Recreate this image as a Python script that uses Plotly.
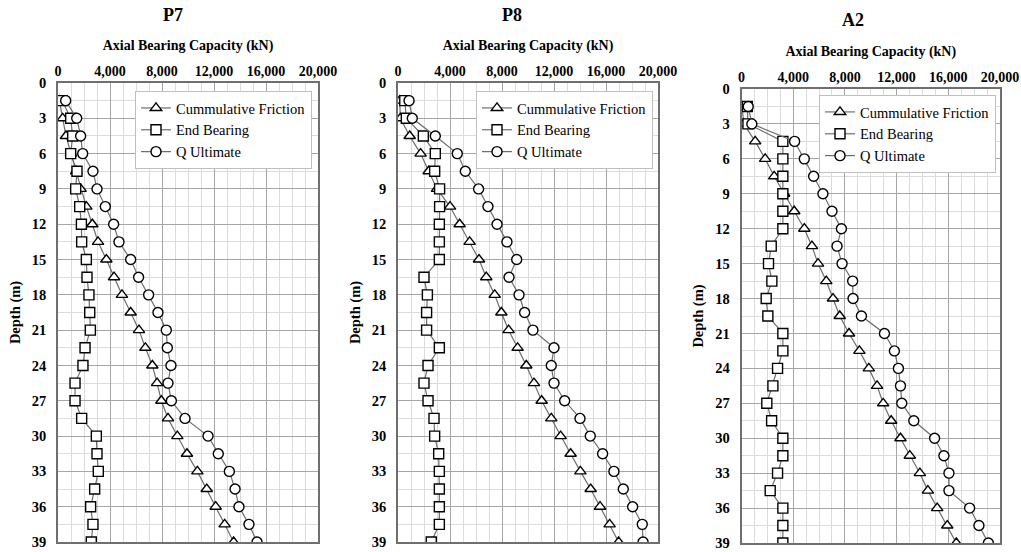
import plotly.graph_objects as go

depth = [1.5, 3, 4.5, 6, 7.5, 9, 10.5, 12, 13.5, 15, 16.5, 18, 19.5, 21,
         22.5, 24, 25.5, 27, 28.5, 30, 31.5, 33, 34.5, 36, 37.5, 39]

p7_friction = [100, 360, 615, 1000, 1400, 1740, 2180, 2640, 3080, 3720, 4310, 4920, 5590, 6230,
               6720, 7260, 7620, 7950, 8460, 9180, 9920, 10720, 11440, 12130, 12820, 13510]
p7_end = [330, 975, 1130, 975, 1460, 1360, 1670, 1800, 1820, 2180, 2230, 2380, 2440, 2490,
          2080, 1920, 1310, 1310, 1820, 2950, 3000, 3100, 2820, 2510, 2690, 2560]
p7_q = [590, 1440, 1740, 1900, 2690, 3000, 3640, 4280, 4690, 5590, 6200, 6970, 7690, 8330,
        8410, 8690, 8460, 8720, 9770, 11540, 12330, 13180, 13620, 13920, 14690, 15310]

p8_friction = [130, 180, 900, 1740, 2360, 3000, 4000, 4740, 5510, 6230, 6790, 7440, 7950, 8510,
               9200, 9870, 10460, 11050, 11790, 12510, 13280, 14030, 14820, 15540, 16280, 16970]
p8_end = [520, 640, 1950, 2870, 2820, 3200, 3200, 3180, 3180, 3180, 2000, 2260, 2200, 2200,
          3180, 2310, 2000, 2310, 2770, 2820, 3130, 3180, 3180, 3180, 3180, 2560]
p8_q = [850, 1100, 2870, 4560, 5180, 6200, 6920, 7620, 8380, 9130, 8540, 9310, 9740, 10380,
        12000, 11790, 12000, 12820, 14000, 14790, 15740, 16610, 17330, 18050, 18790, 18850]

a2_friction = [50, 170, 1060, 1830, 2530, 3300, 4080, 4860, 5450, 5920, 6560, 7080, 7600, 8320,
               9120, 9850, 10490, 10960, 11580, 12300, 13020, 13800, 14420, 15140, 15920, 16620]
a2_end = [450, 500, 3200, 3200, 3200, 3200, 3200, 3200, 2300, 2090, 2350, 1910, 2040, 3200,
          3200, 2790, 2430, 1960, 2330, 3200, 3200, 2790, 2220, 3200, 3200, 3200]
a2_q = [520, 800, 4110, 4860, 5580, 6300, 7000, 7730, 7390, 7780, 8600, 8630, 9280, 11060,
        11830, 12140, 12300, 12400, 13330, 14940, 15660, 16050, 16050, 17650, 18370, 19100]

panels = ["P7", "P8", "A2"]
series_names = ["Cummulative Friction", "End Bearing", "Q Ultimate"]
x_ticks = [0, 4000, 8000, 12000, 16000, 20000]
y_ticks = [0, 3, 6, 9, 12, 15, 18, 21, 24, 27, 30, 33, 36, 39]

data = {
    "P7": [p7_friction, p7_end, p7_q],
    "P8": [p8_friction, p8_end, p8_q],
    "A2": [a2_friction, a2_end, a2_q],
}

W, H = 1021, 552
FONT = "Liberation Serif"
symbols = ["triangle-up", "square", "circle"]
sizes = [10, 10, 10]

# pixel frames of each plot area: (left, right, top, bottom)
frames = {
    "P7": (58, 318, 83, 542),
    "P8": (398, 658, 83, 542),
    "A2": (741.5, 1000, 89, 543),
}
legend_pos = {"P7": (135, 91), "P8": (476, 91), "A2": (819, 95)}
title_pos = {"P7": (173, 15), "P8": (512, 15), "A2": (853, 20)}

fig = go.Figure()
layout = {}
annotations = []
for i, p in enumerate(panels):
    n = "" if i == 0 else str(i + 1)
    leg = "legend" if i == 0 else f"legend{i + 1}"
    for k, (name, vals) in enumerate(zip(series_names, data[p])):
        fig.add_trace(go.Scatter(
            x=vals, y=depth, name=name, mode="lines+markers",
            xaxis="x" + n, yaxis="y" + n, legend=leg,
            line=dict(color="#6e6e6e", width=1.2),
            marker=dict(symbol=symbols[k], size=sizes[k],
                        color="white", line=dict(color="black", width=1.4)),
        ))
    l, r, t, b = frames[p]
    layout["xaxis" + n] = dict(
        domain=[l / W, r / W], anchor="y" + n, side="top", range=[0, 20000],
        tickvals=x_ticks, tickformat=",", showgrid=True, gridcolor="#a6a6a6", gridwidth=1,
        minor=dict(dtick=1000, showgrid=True, gridcolor="#dcdcdc", gridwidth=1),
        showline=True, mirror=True, linecolor="#6f6f6f", linewidth=1.5,
        zeroline=False, ticks="", automargin=False,
        tickfont=dict(family=FONT, size=14, color="black", weight="bold"),
        title=dict(text="Axial Bearing Capacity (kN)", standoff=10,
                   font=dict(family=FONT, size=14, color="black", weight="bold")),
    )
    layout["yaxis" + n] = dict(
        domain=[1 - b / H, 1 - t / H], anchor="x" + n, range=[39, 0],
        tickvals=y_ticks, showgrid=True, gridcolor="#a6a6a6", gridwidth=1,
        minor=dict(dtick=1.5, showgrid=True, gridcolor="#dcdcdc", gridwidth=1),
        showline=True, mirror=True, linecolor="#6f6f6f", linewidth=1.5,
        zeroline=False, ticks="", automargin=False, ticklabelstandoff=7,
        tickfont=dict(family=FONT, size=14.5, color="black", weight="bold"),
        title=dict(text="Depth (m)", standoff=8,
                   font=dict(family=FONT, size=14.5, color="black", weight="bold")),
    )
    lx, ly = legend_pos[p]
    layout[leg] = dict(
        x=lx / W, y=1 - ly / H, xanchor="left", yanchor="top",
        bgcolor="white", bordercolor="#bfbfbf", borderwidth=1,
        font=dict(family=FONT, size=14.5, color="black", weight="normal"),
        itemwidth=30, tracegroupgap=0,
    )
    tx, ty = title_pos[p]
    annotations.append(dict(
        text=p, x=tx / W, y=1 - ty / H, xref="paper", yref="paper",
        xanchor="center", yanchor="middle", showarrow=False,
        font=dict(family=FONT, size=18, color="black", weight="bold"),
    ))

fig.update_layout(
    width=W, height=H, margin=dict(l=0, r=0, t=0, b=0),
    font=dict(family=FONT, color="black"),
    paper_bgcolor="white", plot_bgcolor="white",
    showlegend=True, annotations=annotations, **layout,
)

fig.write_html("out.html", config={"displayModeBar": False},
               post_script="document.body.style.margin='0';")
